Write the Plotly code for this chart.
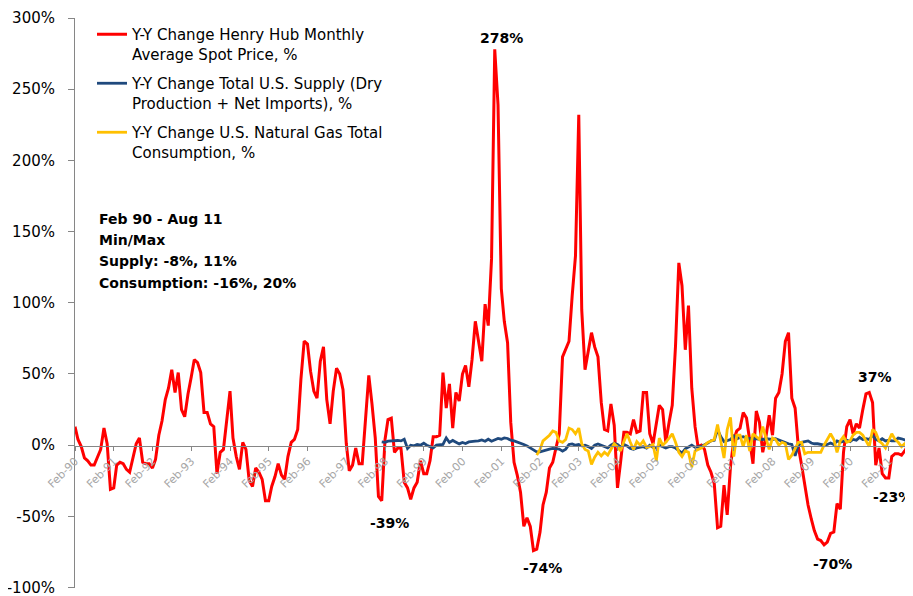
import pandas as pd
import plotly.graph_objects as go

# ---------------- data ----------------
first_month = "1990-02-01"
last_month = "2011-08-01"

# Y-Y change Henry Hub monthly average spot price, %  (Feb-90 .. Aug-11)
henry_hub = [
    13, 4, -1, -9, -11, -14, -14, -8, -3, 12, 1, -31,            # Feb-90..Jan-91
    -30, -14, -12, -13, -17, -19, -8, 1, 5, -12, -13, -13,       # Feb-91..Jan-92
    -16, -10, 7, 17, 32, 40, 53, 37, 51, 25, 20, 36,             # Feb-92..Jan-93
    48, 60, 58, 51, 23, 23, 15, 13, -20, -5, -3, 18,             # Feb-93..Jan-94
    38, 5, -8, -17, 2, -3, -25, -29, -16, -19, -24, -39,         # Feb-94..Jan-95
    -39, -29, -22, -13, -21, -24, -8, 2, 4, 11, 46, 73,          # Feb-95..Jan-96
    71, 52, 38, 33, 59, 69, 32, 15, 38, 54, 50, 39,              # Feb-96..Jan-97
    1, -18, -14, -2, -13, -13, 20, 49, 29, 5, -36, -39,          # Feb-97..Jan-98
    4, 18, 19, -5, -2, -2, -26, -30, -38, -30, -26, -11,         # Feb-98..Jan-99
    -20, -20, -11, 6, 6, 7, 51, 26, 43, 12, 37, 31,              # Feb-99..Jan-00
    50, 56, 41, 60, 87, 72, 59, 99, 84, 131, 278, 239,           # Feb-00..Jan-01
    110, 87, 72, 16, -12, -21, -33, -57, -51, -57, -74, -73,     # Feb-01..Jan-02
    -61, -42, -33, -16, -12, -2, 8, 62, 68, 73, 105, 133,        # Feb-02..Jan-03
    232, 95, 53, 66, 79, 69, 62, 30, 11, 10, 29, 14,             # Feb-03..Jan-04
    -30, -12, 9, 9, 8, 18, 9, 10, 37, 37, 8, 1,                  # Feb-04..Jan-05
    15, 28, 25, 2, 16, 28, 70, 128, 112, 67, 98, 40,             # Feb-05..Jan-06
    13, -1, 0, -3, -14, -19, -27, -58, -57, -28, -49, -15,       # Feb-06..Jan-07
    4, 10, 12, 23, 19, 2, -13, 24, 16, -5, 6, 21,                # Feb-07..Jan-08
    7, 33, 37, 50, 73, 79, 33, 26, -1, -14, -28, -42,            # Feb-08..Jan-09
    -52, -60, -66, -67, -70, -68, -62, -61, -41, -45, -5, 13,    # Feb-09..Jan-10
    18, 8, 15, 12, 25, 36, 37, 30, -14, -2, -20, -23,            # Feb-10..Jan-11
    -23, -8, -6, -6, -7, -4, 0,                                  # Feb-11..Aug-11
]

# Y-Y change total U.S. supply (dry production + net imports), %  (Jan-98 .. Aug-11)
supply_start = "1998-01-01"
supply = [
    2.3, 2, 2.8, 3, 3.1, 3.3, 3, 4.2, -2.3, 0, -0.5, 0.5,
    0, 1.4, 0, -0.9, -1.9, 0, 0.5, 0.5, 5.1, 1.9, 3.3, 2.3,
    0.9, 1.9, 1.2, 2.3, 2.3, 2.8, 3, 3.7, 2.8, 4.2, 2.8, 3.7,
    4.7, 4.2, 5.1, 4.7, 3.5, 3, 2.3, 1.2, 0.5, -0.5, -1.9, -3.7,
    -4.7, -4.7, -4, -3.3, -2.8, -2.3, -2.3, -2.8, -4.2, -2.8, 0.5, 0.9,
    0, 0.5, -0.5, 0, -1, -2.3, 0, 0.9, 0, -1, -1.9, 0,
    1.4, 0.5, -1.4, 0.5, -0.5, -2.3, -2.8, -1.9, -1.5, -1, -2, 0,
    -1.5, -2, 0, -1, -2, -1, -1, -2, -4, -5.5, -2.5, -1,
    0, -1.5, -1, -1, 0, 1.5, 3, 3.5, 11, 6, 2.5, 3,
    4, 6.5, 4.5, 5.5, 6, 5, 4.5, 4.5, 4.5, 4, 4, 4.5,
    4, 4, 4.5, 3.5, 3, 2, 1, 0.5, -7.5, -0.5, 2, 2.5,
    3, 1.5, 1, 1, 0.5, 0, 0.5, 1.5, 0.5, 3, 2, 3,
    3.5, 2.5, 4, 3.5, 5.5, 4, 4.5, 4, 7, 4, 3, 4.5,
    3, 3.5, 3, 3, 5, 4.5, 3.5, 3,
]

# Y-Y change U.S. natural gas total consumption, %  (Jan-02 .. Aug-11)
consumption_start = "2002-01-01"
consumption = [
    -7, -3, 3, 5, 7, 10, 9, 3, 2, 4, 12, 11,
    8, 12, 1, -3, -4, -13.5, -8.5, -5, -7.5, -5, -7, -3,
    1, -1, -4, 2.5, 8, 2, -3, 2.5, 0, 3, -1.5, -1,
    0.5, -11, 5, 0, 2, 5, 8, 2, -5, -8, -4, -5,
    -15.5, -4, -3, -2, 0, 2, 3, 4, 14.5, 3, -9, 11,
    19.5, -8, 7, 7, -1, 7, -4, 8, 6, 4, 13, 5,
    -3, 5, 4, 0, 2, 1, -10, -7, -2, 2, 2, -6,
    -5, -5, -5, -5, -5, 0, 4, 8, 4, -5, 3, 6,
    2, 3, 7, 9, 9, 7, 3, -1, 11, 9, 3, 1,
    -2, 4, 8, 4, 2, -1, 1, 0,
]

series_names = [
    "Y-Y Change Henry Hub Monthly<br>Average Spot Price, %",
    "Y-Y Change Total U.S. Supply (Dry<br>Production + Net Imports), %",
    "Y-Y Change U.S. Natural Gas Total<br>Consumption, %",
]
series_colors = ["#FF0000", "#1F497D", "#FFC000"]

info_lines = ["Feb 90 - Aug 11", "Min/Max", "Supply: -8%, 11%", "Consumption: -16%, 20%"]
callouts = ["278%", "-39%", "-74%", "-70%", "37%", "-23%"]
y_ticks = [-100, -50, 0, 50, 100, 150, 200, 250, 300]

# ---------------- figure ----------------
months = pd.date_range(first_month, last_month, freq="MS")
supply_months = months[months >= pd.Timestamp(supply_start)]
consumption_months = months[months >= pd.Timestamp(consumption_start)]

# the page body has an 8px margin, so the figure is drawn 8px in from the corner
OFF = 8
W, H = 913 - OFF, 596 - OFF
PL, PT, PR, PB = 75, 18, 908, 588          # plot area in window pixels
ML, MT = PL - OFF, PT - OFF
MR, MB = W - (PR - OFF), H - (PB - OFF)
PW, PH = PR - PL, PB - PT


def px_x(px):
    return (px - PL) / PW


def px_y(py):
    return (PB - py) / PH


fig = go.Figure()
for name, color, xs, ys, grp, wd in [
    (series_names[0], series_colors[0], months, henry_hub, "a", 3),
    (series_names[1], series_colors[1], supply_months, supply, "b", 2.8),
    (series_names[2], series_colors[2], consumption_months, consumption, "c", 2.8),
]:
    fig.add_trace(go.Scatter(x=xs, y=ys, mode="lines", name=name, legendgroup=grp,
                             line=dict(color=color, width=wd)))

FONT = "DejaVu Sans"

annotations = []
info_y = [219, 240, 261, 283]
for txt, py in zip(info_lines, info_y):
    annotations.append(dict(text="<b>%s</b>" % txt, xref="paper", yref="paper",
                            x=px_x(97), y=px_y(py), xanchor="left", yanchor="middle",
                            showarrow=False, font=dict(family=FONT, size=14, color="#000000")))

callout_pos = [(502, 38), (389, 523), (542, 568), (832, 564), (875, 377), (892, 497)]
for txt, (cx, cy) in zip(callouts, callout_pos):
    annotations.append(dict(text="<b>%s</b>" % txt, xref="paper", yref="paper",
                            x=px_x(cx), y=px_y(cy), xanchor="center", yanchor="middle",
                            showarrow=False, font=dict(family=FONT, size=14, color="#000000")))

fig.update_layout(
    width=W, height=H,
    margin=dict(l=ML, r=MR, t=MT, b=MB, pad=0, autoexpand=False),
    paper_bgcolor="white", plot_bgcolor="white",
    font=dict(family=FONT, color="#000000"),
    showlegend=True,
    legend=dict(x=px_x(92), y=px_y(18), xanchor="left", yanchor="top",
                font=dict(family=FONT, size=15, color="#000000"),
                valign="top", bgcolor="rgba(0,0,0,0)", itemwidth=30,
                traceorder="grouped", tracegroupgap=7),
    xaxis=dict(type="date", range=[first_month, last_month],
               tick0=first_month, dtick="M12", tickformat="%b-%y",
               tickangle=-45, tickfont=dict(family=FONT, size=11, color="#A6A6A6"),
               showline=True, linecolor="#868686", linewidth=1,
               ticks="outside", ticklen=4, tickcolor="#868686", automargin=False,
               anchor="free", position=0.25, showgrid=False, zeroline=False),
    yaxis=dict(range=[-100.3, 300], tickmode="array", tickvals=y_ticks,
               ticktext=["%d%%" % v for v in y_ticks],
               tickfont=dict(family=FONT, size=15, color="#000000"),
               showline=True, linecolor="#868686", linewidth=1,
               ticks="outside", ticklen=6, tickcolor="#868686",
               ticklabelstandoff=10, ticklabeloverflow="allow", automargin=False,
               showgrid=False, zeroline=False),
    annotations=annotations,
)

fig.write_html("out.html")
